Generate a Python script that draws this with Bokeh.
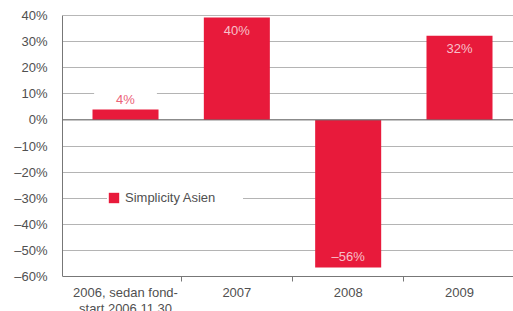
from bokeh.plotting import figure
from bokeh.models import Range1d, FixedTicker, Span, ColumnDataSource, Legend, LegendItem
from bokeh.embed import file_html
from bokeh.resources import INLINE
from bokeh.core.properties import value

# ---- data ----
categories = ["2006, sedan fond-\nstart 2006.11.30", "2007", "2008", "2009"]
returns = [4, 39.2, -56.5, 32.2]
return_labels = ["4%", "40%", "\u201356%", "32%"]
series_name = "Simplicity Asien"
y_ticks = [40, 30, 20, 10, 0, -10, -20, -30, -40, -50, -60]
y_tick_labels = ["40%", "30%", "20%", "10%", "0%", "\u201310%", "\u201320%",
                 "\u201330%", "\u201340%", "\u201350%", "\u201360%"]

# ---- styles ----
RED = "#E81A3B"
FONT = "Liberation Sans"
TXT = "#505050"
FS = "13px"

n = len(categories)
centers = [i + 0.5 for i in range(n)]
y_min, y_max = min(y_ticks), max(y_ticks)

p = figure(width=513, height=311, output_backend="svg", toolbar_location=None,
           x_range=Range1d(-0.066, n - 0.015), y_range=Range1d(y_min - 13.4, y_max),
           min_border_left=62, min_border_right=0, min_border_top=15, min_border_bottom=0)
p.outline_line_color = None
p.background_fill_color = "white"
p.border_fill_color = "white"

src = ColumnDataSource(dict(x=centers, top=returns))
bars = p.vbar(x="x", top="top", bottom=0, width=0.593, source=src,
              fill_color=RED, line_color=None)

# data labels
out_idx = [i for i, v in enumerate(returns) if abs(v) < 10]
in_idx = [i for i, v in enumerate(returns) if abs(v) >= 10]
src_out = ColumnDataSource(dict(x=[centers[i] for i in out_idx],
                                y=[returns[i] for i in out_idx],
                                t=[return_labels[i] for i in out_idx]))
src_in = ColumnDataSource(dict(x=[centers[i] for i in in_idx],
                               y=[returns[i] for i in in_idx],
                               t=[return_labels[i] for i in in_idx],
                               off=[13 if returns[i] > 0 else -11 for i in in_idx]))
p.text(x="x", y="y", text="t", source=src_out, text_align="center",
       text_baseline="middle", y_offset=-10, text_font=value(FONT),
       text_font_size=FS, text_color="#EC6378",
       background_fill_color="white", padding=(22, 2))
p.text(x="x", y="y", text="t", source=src_in, text_align="center",
       text_baseline="middle", y_offset="off", text_font=value(FONT),
       text_font_size=FS, text_color="#F7C0CA")

# grid
p.xgrid.grid_line_color = None
p.ygrid.ticker = FixedTicker(ticks=y_ticks)
p.ygrid.grid_line_color = "#B4B4B4"
p.ygrid.grid_line_width = 1
p.ygrid.level = "underlay"

# y axis
p.yaxis.ticker = FixedTicker(ticks=y_ticks)
p.yaxis.bounds = (y_min, y_max)
p.yaxis.major_label_overrides = {t: l for t, l in zip(y_ticks, y_tick_labels)}
p.yaxis.major_tick_line_color = None
p.yaxis.minor_tick_line_color = None
p.yaxis.axis_line_color = "#777777"
p.yaxis.major_label_standoff = 9
p.yaxis.major_label_text_font = FONT
p.yaxis.major_label_text_font_size = FS
p.yaxis.major_label_text_color = TXT

# x axis, drawn at the bottom of the value scale
p.xaxis.fixed_location = y_min
p.xaxis.ticker = FixedTicker(ticks=centers, minor_ticks=list(range(1, n)))
p.xaxis.major_label_overrides = {c: l for c, l in zip(centers, categories)}
p.xaxis.major_tick_line_color = None
p.xaxis.major_tick_out = 0
p.xaxis.minor_tick_in = 0
p.xaxis.minor_tick_out = 5
p.xaxis.minor_tick_line_color = "#777777"
p.xaxis.axis_line_color = "#777777"
p.xaxis.major_label_standoff = 3
p.xaxis.major_label_text_font = FONT
p.xaxis.major_label_text_font_size = FS
p.xaxis.major_label_text_line_height = 1.1
p.xaxis.major_label_text_color = TXT

p.add_layout(Span(location=0, dimension="width", line_color="#707070", line_width=1))
p.add_layout(Span(location=y_max, dimension="width", line_color="#707070", line_width=1))

legend = Legend(items=[LegendItem(label=series_name, renderers=[bars])],
                location=(45, 106), orientation="vertical",
                glyph_width=13, glyph_height=13, label_height=13, label_width=118,
                label_standoff=5, padding=6, margin=0,
                border_line_color=None, background_fill_color="white",
                background_fill_alpha=1.0,
                label_text_font=FONT, label_text_font_size=FS,
                label_text_color=TXT)
p.add_layout(legend)

open("out.html", "w").write(file_html(p, INLINE))
